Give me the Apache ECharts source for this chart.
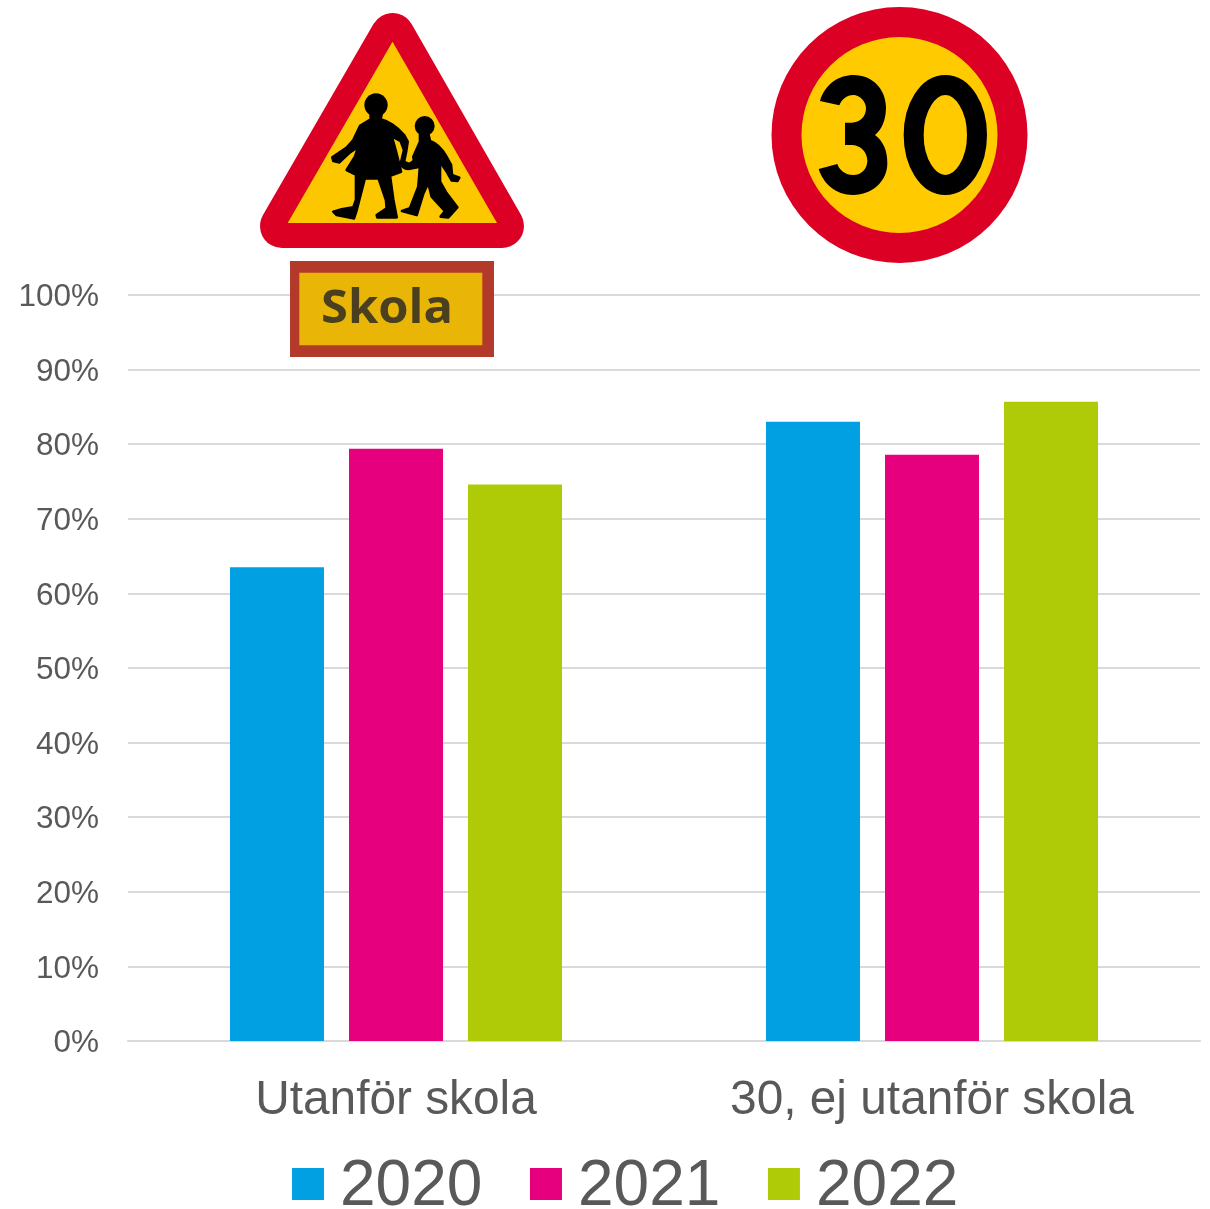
<!DOCTYPE html>
<html><head><meta charset="utf-8">
<style>html,body{margin:0;padding:0;background:#fff}#c{width:1210px;height:1209px}</style>
<script src="https://cdn.jsdelivr.net/npm/echarts@6/dist/echarts.min.js"></script>
</head><body><div id="c"></div>
<script>
const categories = ['Utanför skola', '30, ej utanför skola'];
const years = ['2020', '2021', '2022'];
const v2020 = [63.5, 83.0];
const v2021 = [79.4, 78.6];
const v2022 = [74.6, 85.7];
const colors = ['#00A0E3', '#E6007E', '#AFCB08'];
const FONT = '"Liberation Sans", Arial, sans-serif';
const RED = '#DC0025', YEL = '#FDC700', BLK = '#000';

const girl = 'M362 340 L395 340 L392 358 C412 362 442 380 462 405 L473 425 L469 452 L462 486 L478 492 L510 470 L510 500 L475 507 C462 507 452 498 453 488 L462 450 L452 423 L425 408 L438 455 L453 515 L400 535 L340 535 L290 510 L315 470 L325 440 L300 457 L268 487 L250 483 L247 472 L290 443 L310 420 L330 378 L362 358 Z ' +
  'M318 525 L318 600 L310 622 L275 628 L250 635 L260 645 L312 655 L320 630 L345 533 Z M385 533 L408 600 L410 625 L380 645 L382 652 L440 652 L430 600 L420 528 Z';
const boy = 'M510 402 L535 402 L540 423 C560 430 578 450 588 468 L603 495 L606 525 L628 533 L622 543 L605 541 L591 516 L568 482 L570 500 L570 545 L590 580 L622 622 L595 652 L572 650 L585 633 L545 590 L535 548 L520 580 L500 645 L456 633 L480 625 L505 560 L510 498 L495 500 L490 470 L510 425 Z';
const three = 'M180 303 C195 250 240 225 280 225 C340 225 378 270 378 322 C378 360 365 390 345 405 C370 425 382 450 382 490 C382 545 335 585 280 585 C225 585 190 550 176 507 L232 492 C238 510 255 525 280 525 C305 525 322 505 322 482 C322 455 300 435 275 435 L255 435 L255 368 L275 368 C300 368 318 350 318 325 C318 305 300 285 280 285 C260 285 245 298 238 316 Z';
echarts.graphic.registerShape('girlPath', echarts.graphic.extendPath(girl));
echarts.graphic.registerShape('boyPath', echarts.graphic.extendPath(boy));
echarts.graphic.registerShape('threePath', echarts.graphic.extendPath(three));

const chart = echarts.init(document.getElementById('c'), null, {renderer:'canvas'});
chart.setOption({
  animation:false,
  backgroundColor:'#fff',
  grid:{left:128,right:10,top:295,height:746,containLabel:false},
  legend:{
    show:true,left:287,top:1150,icon:'rect',itemWidth:32,itemHeight:32,itemGap:47.6,
    data:years,
    formatter:'{a|{name}}',
    textStyle:{color:'#595959',fontFamily:FONT,fontSize:64,
      rich:{a:{color:'#595959',fontFamily:FONT,fontSize:64,padding:[6,0,0,11]}}},
  },
  xAxis:{type:'category',data:categories,
    axisTick:{show:false},
    axisLine:{lineStyle:{color:'#D9D9D9',width:2}},
    axisLabel:{color:'#595959',fontFamily:FONT,fontSize:47.8,margin:36}},
  yAxis:{type:'value',min:0,max:100,interval:10,
    axisLine:{show:false},axisTick:{show:false},
    splitLine:{lineStyle:{color:'#D9D9D9',width:2}},
    axisLabel:{formatter:'{value}%',color:'#595959',fontFamily:FONT,fontSize:31.5,margin:29,
      verticalAlign:'top',lineHeight:5}},
  series:[v2020,v2021,v2022].map((d,i)=>({
    name:years[i],type:'bar',data:d,barWidth:94,barGap:'26.6%',
    itemStyle:{color:colors[i]},z:2
  })),
  graphic:[
    {type:'polygon',z:100,shape:{points:[[392.5,35],[282,226],[502,226]]},
      style:{fill:RED,stroke:RED,lineWidth:44,lineJoin:'round'}},
    {type:'polygon',z:101,shape:{points:[[392.5,41.7],[287.7,223],[497,223]]},style:{fill:YEL}},
    {type:'group',z:102,x:250,y:0,scaleX:1/3,scaleY:1/3,children:[
      {type:'ellipse',z:102,shape:{cx:378,cy:315,rx:35,ry:35},style:{fill:BLK}},
      {type:'girlPath',z:102,style:{fill:BLK,stroke:BLK,lineWidth:8,lineJoin:'round'}},
      {type:'circle',z:102,shape:{cx:524,cy:378,r:30},style:{fill:BLK}},
      {type:'boyPath',z:102,style:{fill:BLK,stroke:BLK,lineWidth:8,lineJoin:'round'}}
    ]},
    {type:'rect',z:100,shape:{x:290,y:261,width:204,height:96},style:{fill:'#B33A2A'}},
    {type:'rect',z:101,shape:{x:299.3,y:272.7,width:183,height:72.6},style:{fill:'#E9B506'}},
    {type:'text',z:102,x:321,y:310,scaleX:1.04,style:{text:'Skola',fill:'#4A4020',font:'700 47px "Open Sans", sans-serif',textAlign:'left',textVerticalAlign:'middle'}},
    {type:'circle',z:100,shape:{cx:899.5,cy:135,r:128},style:{fill:RED}},
    {type:'circle',z:101,shape:{cx:899.5,cy:135,r:98},style:{fill:'#FFCB00'}},
    {type:'group',z:102,x:760,y:0,scaleX:1/3,scaleY:1/3,children:[
      {type:'threePath',z:102,style:{fill:BLK}},
      {type:'ellipse',z:102,shape:{cx:556,cy:405,rx:95,ry:150},style:{fill:'none',stroke:BLK,lineWidth:60}}
    ]}
  ]
});
</script></body></html>
